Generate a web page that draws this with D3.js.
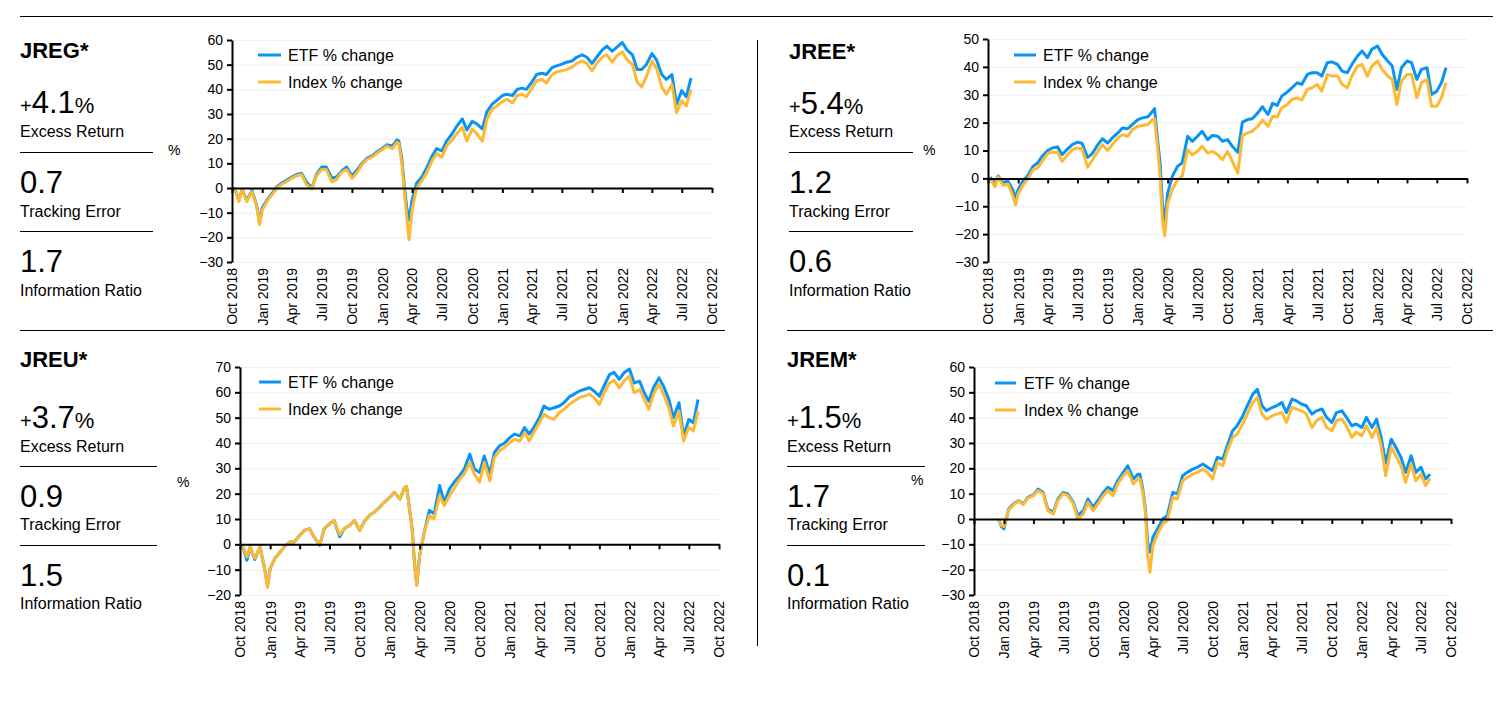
<!DOCTYPE html>
<html>
<head>
<meta charset="utf-8">
<script src="https://cdn.jsdelivr.net/npm/d3@7"></script>
<style>
  body { margin: 0; background: #fff; }
  svg { display: block; font-family: "Liberation Sans", Arial, sans-serif; }
</style>
</head>
<body>
<div id="chartArea"></div>
<script>
// ---- data ----
const dates = [
  '2018-10-08','2018-10-22','2018-11-01','2018-11-15','2018-12-01','2018-12-15','2018-12-24','2019-01-01','2019-01-15','2019-02-01',
  '2019-02-15','2019-03-01','2019-03-15','2019-04-01','2019-04-15','2019-05-01','2019-05-15','2019-06-01','2019-06-15','2019-07-01',
  '2019-07-15','2019-08-01','2019-08-15','2019-09-01','2019-09-15','2019-10-01','2019-10-15','2019-11-01','2019-11-15','2019-12-01',
  '2019-12-15','2020-01-01','2020-01-15','2020-02-01','2020-02-15','2020-02-21','2020-03-01','2020-03-09','2020-03-16','2020-03-23',
  '2020-04-01','2020-04-15','2020-05-01','2020-05-15','2020-06-01','2020-06-15','2020-07-01','2020-07-15','2020-08-01','2020-08-15',
  '2020-09-01','2020-09-15','2020-10-01','2020-10-15','2020-11-01','2020-11-15','2020-12-01','2020-12-15','2021-01-01','2021-01-15',
  '2021-02-01','2021-02-15','2021-03-01','2021-03-15','2021-04-01','2021-04-15','2021-05-01','2021-05-15','2021-06-01','2021-06-15',
  '2021-07-01','2021-07-15','2021-08-01','2021-08-15','2021-09-01','2021-09-15','2021-10-01','2021-10-15','2021-11-01','2021-11-15',
  '2021-12-01','2021-12-15','2022-01-01','2022-01-15','2022-02-01','2022-02-15','2022-03-01','2022-03-15','2022-04-01','2022-04-15',
  '2022-05-01','2022-05-15','2022-06-01','2022-06-15','2022-07-01','2022-07-15','2022-07-29'
];

const jregEtf = [
  0.3, -5, -0.5, -5, -1, -7, -14, -8, -5, -2,
  0.5, 2, 3, 4.4, 5.5, 6, 2.5, 0, 5.5, 8.5,
  8.5, 4, 4.5, 7, 8.5, 5, 7, 10, 12, 13,
  14.5, 16, 17.5, 17, 19.5, 19, 12, 0, -8, -13,
  -5, 2, 4.5, 8, 13, 16, 15, 19, 22, 25,
  28, 23.5, 27, 26, 24, 31, 34, 35.5, 37.5, 38,
  37.5, 40, 40.5, 40, 43, 46, 46.5, 46, 48.8, 49.5,
  50.2, 51, 51.5, 53, 54, 53, 50.5, 53, 56, 57.5,
  55.5, 57, 59, 56, 54, 48, 48, 50, 54.5, 52,
  46, 44, 46, 34, 39.5, 37, 44.5
];
const jregIndex = [
  0.3, -5.5, -0.5, -5.5, -1.5, -7.5, -14.8, -9, -5.5, -2.5,
  0, 1.5, 2.5, 4, 5, 5.5, 1.5, -0.5, 5, 7.5,
  7.5, 2.5, 3.5, 6.5, 7.5, 4, 6, 9.5, 11.5, 12.5,
  14, 15.5, 17, 16, 18.5, 18, 10, -2, -12, -21,
  -9, 0, 3, 6, 11, 14, 12.5, 17, 19.5, 22,
  24.6, 19, 24, 22, 19, 28, 32, 33.3, 35, 36,
  34.5, 37.5, 38, 37, 40.5, 43.5, 44, 42.5, 46, 47,
  47.5, 48, 49, 50.5, 51.5, 50.5, 47.5, 50.5, 53, 54,
  51, 53.5, 55.2, 52, 50, 43, 41, 45, 51.5, 48.5,
  41, 38, 42, 30.6, 35.4, 33.3, 40
];

const jreeEtf = [
  0.5, -2, 0.8, -1.5, -1, -4, -7, -4, -1, 1.3,
  4.3, 5.5, 7.9, 10, 10.9, 11.3, 8.5, 10.6, 12.1, 13,
  12.5, 7.5, 8.9, 12.1, 14.2, 12.7, 14.5, 16.3, 18.1, 17.8,
  19.3, 21.1, 21.7, 22.1, 24.1, 25, 14, 5.5, -8.9, -16,
  -5.3, 0.7, 4.3, 5.5, 15.1, 13.3, 15.1, 16.9, 13.9, 15.4,
  15.1, 13.3, 13.9, 11.5, 9.4, 20.2, 21.1, 21.4, 23.5, 25.7,
  22.9, 26.9, 26.2, 29.5, 31, 32.5, 34.3, 33.7, 37.3, 37.9,
  37.9, 36.7, 41.5, 41.8, 40.9, 38.5, 37.9, 40.9, 43.9, 45.7,
  43.3, 46.3, 47.5, 44.5, 42.1, 40.3, 31.9, 39.7, 42.1, 41.5,
  35.5, 39.1, 39.7, 30.1, 31.3, 34.3, 39.7
];
const jreeIndex = [
  0, -3, 0.5, -2.5, -2, -6, -9.5, -5.5, -2.5, 0,
  3.1, 3.7, 6.1, 8.9, 9.4, 9.4, 6.1, 8.5, 10.3, 10.9,
  10.6, 4, 6.5, 9.7, 12.1, 10, 12.1, 14.5, 15.7, 15.1,
  17.5, 18.7, 19, 19.3, 21.1, 21.4, 11.5, 0.7, -14.9, -20.6,
  -8.9, -4, -0.5, 0.7, 10.3, 8.5, 9.7, 11.5, 9.1, 9.7,
  8.5, 6.7, 9.7, 6.1, 1.9, 15.4, 16.3, 16.9, 18.7, 20.9,
  18.7, 22.3, 22, 25.3, 26.5, 28.3, 28.9, 28.1, 31.9, 32.5,
  33.7, 31.3, 37.3, 36.7, 36.7, 33.7, 32.5, 36.7, 40.3, 40.9,
  36.7, 40.3, 42.1, 39.1, 36.7, 35.5, 26.5, 34.9, 37.3, 37.3,
  28.9, 34.3, 35.5, 25.9, 25.9, 28.9, 34.3
];

const jreuEtf = [
  0, -6.3, -1, -6, -1, -9.5, -16.5, -9.5, -5.6, -3,
  -0.7, 0.9, 0.9, 3.5, 5.5, 6.2, 2.9, -0.4, 6.2, 8.1,
  9.4, 3, 6.2, 7.5, 9.4, 5.5, 9, 11.6, 12.7, 14.7,
  16.6, 18.6, 20.5, 17.9, 22.5, 22.8, 14, 6.2, -6.9, -16.1,
  -4.3, 4.8, 13.4, 12, 23.2, 16.6, 21.9, 24.5, 27.1, 29.7,
  35.6, 29.7, 28.4, 34.9, 27.7, 36.3, 38.9, 39.9, 42.1, 43.5,
  42.8, 46.1, 43.5, 46.1, 50, 54.6, 53.3, 53.9, 54.6, 55.9,
  58.2, 59.2, 60.5, 61.1, 61.8, 60.5, 58.5, 62.4, 67, 67.9,
  65.1, 67.7, 69.2, 63.7, 64.4, 59.8, 56.5, 61.8, 65.7, 62.4,
  57.2, 50, 55.9, 42.8, 49.3, 48, 57.2
];
const jreuIndex = [
  0, -5, -1, -5.5, -1, -9.5, -17, -9.5, -5.6, -3,
  -0.7, 0.9, 0.9, 3.5, 5.5, 6.2, 2.9, -0.2, 6.2, 8.1,
  9.4, 3.8, 6.2, 7.5, 9.4, 5.5, 9, 11.6, 12.7, 14.7,
  16.6, 18.6, 20.5, 17.9, 22.5, 22.8, 14, 6.2, -6.9, -16.1,
  -4.3, 4.8, 11.4, 10, 19.2, 15.3, 19.2, 21.9, 25.8, 27.7,
  32.3, 27.7, 24.5, 32.3, 25.1, 34.3, 36.9, 38.2, 40.2, 41.5,
  40.8, 44.1, 40.8, 44.1, 48, 51.3, 50, 49.3, 52, 53.3,
  55.2, 56.5, 57.9, 58.5, 59.2, 57.9, 55.2, 59.8, 63.7, 64.8,
  61.8, 64.4, 66.4, 59.8, 61.1, 57.2, 53.3, 59.2, 63.1, 59.2,
  53.9, 46.7, 52.6, 40.8, 46.1, 44.8, 52.6
];

const jremEtf = [
  null, null, null, null, null, 0, -3, -3.9, 3.9, 6.2,
  7.2, 5.9, 8.5, 9.5, 11.8, 10.5, 3.9, 2.6, 7.9, 10.5,
  9.9, 6.6, 1.3, 3.3, 7.9, 4.6, 7.2, 10.5, 12.5, 11.2,
  15.1, 18.4, 21, 15.8, 17.7, 17.7, 11.8, 3.9, -9.2, -13,
  -7.2, -3.9, 0, 1.3, 10.5, 9.9, 17.1, 18.4, 19.7, 20.4,
  21.7, 20.4, 19.1, 24.3, 23.7, 28.9, 34.8, 36.8, 40.7, 44.7,
  49.3, 51.2, 44.7, 42.7, 44, 44.7, 46, 42, 47.3, 46.6,
  45.3, 44.7, 41.4, 42.7, 43.4, 40.1, 38.1, 42, 42.7, 40.1,
  36.8, 37.5, 36.1, 40.1, 36.1, 39.4, 32.2, 22, 31.5, 28.3,
  24.3, 18.4, 25, 18.4, 20.4, 15.8, 17.7
];
const jremIndex = [
  null, null, null, null, null, 0, -2.5, -3, 3.5, 5.9,
  7, 5.7, 8.2, 9.2, 11.2, 10, 3.3, 2, 7.3, 10,
  9.3, 6, 0, 2, 6.6, 3.3, 5.9, 9.2, 11.2, 9.2,
  13.8, 17.1, 19.1, 13.8, 15.8, 15.8, 10.5, 2.6, -14.5, -21,
  -10.5, -5.9, -2, -0.7, 8.5, 7.9, 15.1, 16.4, 17.7, 18.4,
  19.7, 18.4, 15.8, 22.3, 21, 26.9, 32.2, 33.5, 37.5, 41.4,
  46, 48, 41.4, 39.4, 40.7, 41.4, 42, 38.1, 44, 43.4,
  42.7, 41.4, 36.1, 38.8, 40.1, 36.1, 34.8, 38.8, 39.4, 36.8,
  32.2, 34.2, 32.9, 36.8, 32.2, 36.1, 28.9, 17.1, 28.3, 25,
  21, 14.5, 21.7, 15.1, 17.7, 13.1, 16
];

const fundNames = ['JREG*', 'JREE*', 'JREU*', 'JREM*'];
const excessReturn = ['4.1', '5.4', '3.7', '1.5'];
const trackingError = ['0.7', '1.2', '0.9', '1.7'];
const informationRatio = ['1.7', '0.6', '1.5', '0.1'];
const yDomains = [[-30, 60], [-30, 50], [-20, 70], [-30, 60]];
const etfSeries = [jregEtf, jreeEtf, jreuEtf, jremEtf];
const indexSeries = [jregIndex, jreeIndex, jreuIndex, jremIndex];
const legendLabels = ['ETF % change', 'Index % change'];

// ---- layout ----
const etfColor = '#0a94f2';
const indexColor = '#fdb933';
const font = '"Liberation Sans", Arial, sans-serif';

const layout = [
  { sx: 20,  rows: [58, 113, 137, 152, 193, 217, 231, 272, 296], ruleEnd: 153, pct: [168, 155],
    x0: 232, x1: 712, yTop: 40, yBot: 262, leg: [258, 281, 288], legY: [55, 82] },
  { sx: 789, rows: [59, 114, 137, 152, 193, 217, 231, 272, 296], ruleEnd: 913, pct: [923, 155],
    x0: 988, x1: 1467, yTop: 39, yBot: 262, leg: [1014, 1036, 1043], legY: [55, 82] },
  { sx: 20,  rows: [367, 428, 452, 466, 507, 530, 545, 586, 609], ruleEnd: 157, pct: [177, 487],
    x0: 240, x1: 719, yTop: 367, yBot: 595, leg: [259, 281, 288], legY: [382, 409] },
  { sx: 787, rows: [367, 428, 452, 466, 507, 530, 545, 586, 609], ruleEnd: 925, pct: [911, 485],
    x0: 974, x1: 1451, yTop: 367, yBot: 595, leg: [995, 1016, 1024], legY: [383, 410] }
];

const svg = d3.select('#chartArea')
  .append('svg')
  .attr('width', 1508)
  .attr('height', 704);

// page rules
const rule = (x1, y1, x2, y2) => svg.append('line')
  .attr('x1', x1).attr('y1', y1).attr('x2', x2).attr('y2', y2)
  .attr('stroke', '#000').attr('stroke-width', 1);
rule(20, 16.5, 1493, 16.5);
rule(757.5, 40, 757.5, 646);
rule(20, 330.5, 725, 330.5);
rule(787, 330.5, 1493, 330.5);

const parseDate = d3.timeParse('%Y-%m-%d');
const dateValues = dates.map(parseDate);
const xTicks = d3.timeMonth.range(new Date(2018, 9, 1), new Date(2022, 9, 2), 3);

layout.forEach((L, i) => {
  const g = svg.append('g');

  // stats column
  const r = L.rows;
  g.append('text').attr('x', L.sx).attr('y', r[0])
    .attr('font-size', 22).attr('font-weight', 'bold').text(fundNames[i]);

  const er = g.append('text').attr('x', L.sx).attr('y', r[1]);
  er.append('tspan').attr('font-size', 20).text('+');
  er.append('tspan').attr('font-size', 31).text(excessReturn[i]);
  er.append('tspan').attr('font-size', 22).text('%');
  g.append('text').attr('x', L.sx).attr('y', r[2]).attr('font-size', 16).text('Excess Return');
  rule(L.sx, r[3] + 0.5, L.ruleEnd, r[3] + 0.5);

  g.append('text').attr('x', L.sx).attr('y', r[4]).attr('font-size', 31).text(trackingError[i]);
  g.append('text').attr('x', L.sx).attr('y', r[5]).attr('font-size', 16).text('Tracking Error');
  rule(L.sx, r[6] + 0.5, L.ruleEnd, r[6] + 0.5);

  g.append('text').attr('x', L.sx).attr('y', r[7]).attr('font-size', 31).text(informationRatio[i]);
  g.append('text').attr('x', L.sx).attr('y', r[8]).attr('font-size', 16).text('Information Ratio');

  g.append('text').attr('x', L.pct[0]).attr('y', L.pct[1]).attr('font-size', 14).text('%');

  // scales
  const x = d3.scaleTime()
    .domain([new Date(2018, 9, 1), new Date(2022, 9, 1)])
    .range([L.x0, L.x1]);
  const y = d3.scaleLinear().domain(yDomains[i]).range([L.yBot, L.yTop]);
  const yTicks = d3.range(yDomains[i][0], yDomains[i][1] + 1, 10);

  // gridlines
  const grid = g.append('g')
    .attr('transform', `translate(${L.x0},0)`)
    .call(d3.axisLeft(y).tickValues(yTicks).tickSize(-(L.x1 - L.x0)).tickFormat(''));
  grid.select('.domain').remove();
  grid.selectAll('line').attr('stroke', '#efefef').attr('stroke-width', 1);

  // series: ETF first, index drawn over it
  const line = d3.line()
    .defined(d => d.v != null)
    .x(d => x(d.date))
    .y(d => y(d.v));
  [[etfSeries[i], etfColor], [indexSeries[i], indexColor]].forEach(([vals, color]) => {
    const pts = dateValues.map((d, k) => ({ date: d, v: vals[k] }));
    g.append('path')
      .datum(pts)
      .attr('fill', 'none')
      .attr('stroke', color)
      .attr('stroke-width', 3)
      .attr('stroke-linejoin', 'round')
      .attr('d', line);
  });

  // y axis
  const yAxis = g.append('g')
    .attr('transform', `translate(${L.x0},0)`)
    .call(d3.axisLeft(y).tickValues(yTicks).tickSize(5).tickSizeOuter(0).tickPadding(4));
  yAxis.select('.domain').attr('stroke-width', 2);
  yAxis.selectAll('.tick line').attr('stroke-width', 2);
  yAxis.selectAll('text').attr('font-size', 14).attr('font-family', font).attr('fill', '#000');

  // zero line with quarterly ticks
  const xAxis = g.append('g')
    .attr('transform', `translate(0,${y(0)})`)
    .call(d3.axisBottom(x).tickValues(xTicks).tickSize(5).tickSizeOuter(0).tickFormat(''));
  xAxis.select('.domain').attr('stroke-width', 2);
  xAxis.selectAll('.tick line').attr('stroke-width', 2);

  // rotated date labels under the plot
  const xLabels = g.append('g')
    .attr('transform', `translate(0,${L.yBot})`)
    .call(d3.axisBottom(x).tickValues(xTicks).tickSize(0).tickFormat(d3.timeFormat('%b %Y')));
  xLabels.select('.domain').remove();
  xLabels.selectAll('text')
    .attr('font-size', 14)
    .attr('font-family', font)
    .attr('fill', '#000')
    .attr('text-anchor', 'end')
    .attr('transform', 'rotate(-90)')
    .attr('x', -6)
    .attr('y', 0)
    .attr('dy', '0.35em');

  // legend
  [etfColor, indexColor].forEach((color, k) => {
    g.append('line')
      .attr('x1', L.leg[0]).attr('x2', L.leg[1])
      .attr('y1', L.legY[k]).attr('y2', L.legY[k])
      .attr('stroke', color).attr('stroke-width', 3);
    g.append('text')
      .attr('x', L.leg[2]).attr('y', L.legY[k])
      .attr('dy', '0.35em')
      .attr('font-size', 16)
      .text(legendLabels[k]);
  });
});
</script>
</body>
</html>
